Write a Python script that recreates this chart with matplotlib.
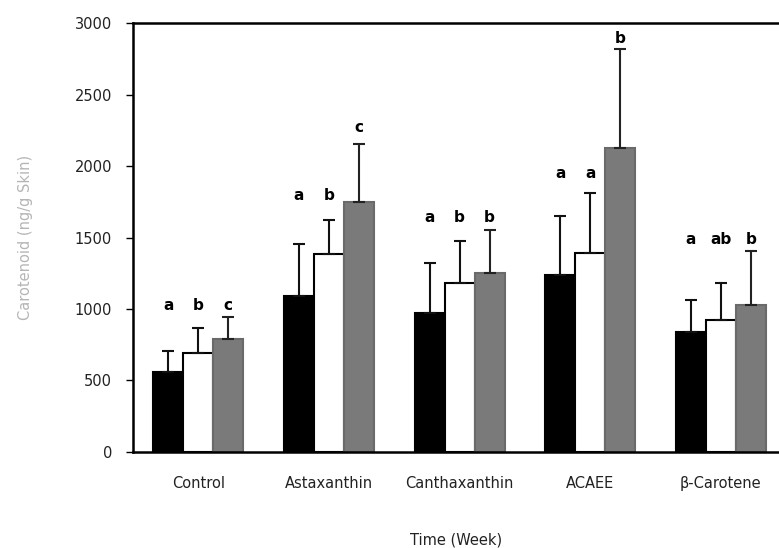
import numpy as np
import matplotlib
matplotlib.use("Agg")
import matplotlib.pyplot as plt

grupos = ["Control", "Astaxanthin", "Canthaxanthin", "ACAEE", "β-Carotene"]

# media y desviacion por semana de muestreo (negro, blanco, gris)
media_1 = [558, 1089, 970, 1235, 837]
media_2 = [690, 1382, 1179, 1389, 921]
media_3 = [788, 1751, 1249, 2128, 1026]
desv_1 = [147, 369, 349, 412, 224]
desv_2 = [175, 237, 300, 425, 258]
desv_3 = [154, 405, 300, 691, 377]

letras_1 = ["a", "a", "a", "a", "a"]
letras_2 = ["b", "b", "b", "a", "ab"]
letras_3 = ["c", "c", "b", "b", "b"]
altura_letras_1 = [1026, 1793, 1640, 1947, 1486]
altura_letras_2 = [1026, 1793, 1640, 1947, 1486]
altura_letras_3 = [1026, 2268, 1640, 2889, 1486]

fig = plt.figure(figsize=(7.79, 5.48), dpi=100)
ax = fig.add_axes([0.1707, 0.1752, 0.8293, 0.7828])

x = np.arange(len(grupos))
ancho = 0.23
series = [
    (media_1, desv_1, "black", "black", letras_1, altura_letras_1),
    (media_2, desv_2, "white", "black", letras_2, altura_letras_2),
    (media_3, desv_3, "#7a7a7a", "#6a6a6a", letras_3, altura_letras_3),
]
for i, (media, desv, color, borde, letras, alturas) in enumerate(series):
    pos = x + (i - 1) * ancho
    ax.bar(pos, media, ancho, color=color, edgecolor=borde, linewidth=1.5, zorder=2)
    ax.errorbar(pos, media, yerr=[np.zeros(len(desv)), desv], fmt="none",
                ecolor="#111111" if i < 2 else "#222222", elinewidth=1.5,
                capsize=4, capthick=1.5, zorder=3)
    for p, l, h in zip(pos, letras, alturas):
        ax.text(p, h, l, ha="center", va="center", fontsize=11,
                fontweight="bold", color="black")

ax.set_xlim(-0.50, 4.445)
ax.set_ylim(0, 3000)
ax.set_yticks(range(0, 3001, 500))
ax.set_xticks(x)
ax.set_xticklabels(grupos, fontsize=10.5, color="#222222")
ax.tick_params(axis="y", labelsize=10.5, labelcolor="#222222", length=5, width=1,
               direction="out", pad=10)
ax.tick_params(axis="x", length=0, pad=17)

for lado in ["left", "bottom", "top"]:
    ax.spines[lado].set_linewidth(1.8)
ax.spines["right"].set_visible(False)

ax.set_xlabel("Time (Week)", fontsize=10.5, color="#222222", labelpad=30)
ax.set_ylabel("Carotenoid (ng/g Skin)", fontsize=10.5, color="#b5b5b5", labelpad=30)

plt.savefig("out.png", dpi=100)
